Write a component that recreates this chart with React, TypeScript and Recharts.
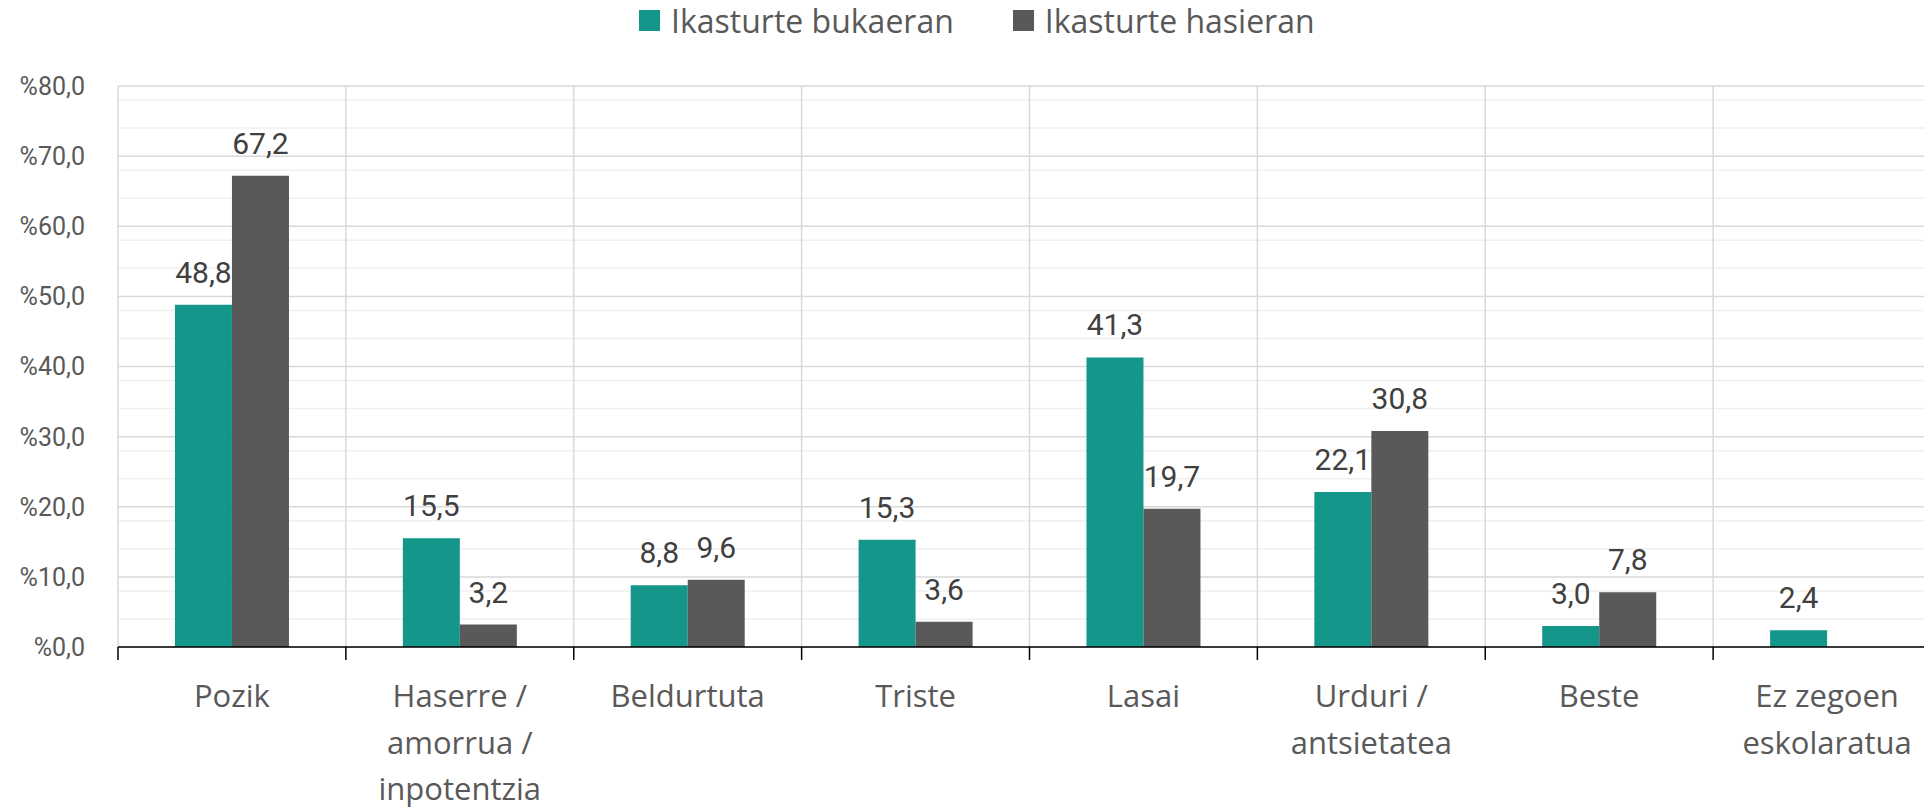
import React from 'react';
import {
  BarChart, Bar, XAxis, YAxis, CartesianGrid, Legend, LabelList,
} from 'recharts';

// Kategoriak eta balioak (%)
const categories = [
  'Pozik',
  'Haserre /\namorrua /\ninpotentzia',
  'Beldurtuta',
  'Triste',
  'Lasai',
  'Urduri /\nantsietatea',
  'Beste',
  'Ez zegoen\neskolaratua',
];
const bukaeran = [48.8, 15.5, 8.8, 15.3, 41.3, 22.1, 3.0, 2.4];
const hasieran: (number | null)[] = [67.2, 3.2, 9.6, 3.6, 19.7, 30.8, 7.8, null];

const yTicks = [0, 10, 20, 30, 40, 50, 60, 70, 80];
const minorValues = [2, 4, 6, 8, 12, 14, 16, 18, 22, 24, 26, 28, 32, 34, 36, 38, 42, 44, 46, 48, 52, 54, 56, 58, 62, 64, 66, 68, 72, 74, 76, 78];

const TEAL = '#15968B';
const GRAY = '#595959';
const TEXT = '#595959';

const data = categories.map((name, i) => ({
  name,
  bukaeran: bukaeran[i],
  hasieran: hasieran[i],
}));

const fmt = (v: any) => (v == null ? '' : Number(v).toFixed(1).replace('.', ','));

const scaleOf = (s: any, v: any) => {
  if (typeof s === 'function') return s(v);
  if (s && typeof s.map === 'function') return s.map(v);
  if (s && typeof s.apply === 'function') return s.apply(v);
  return undefined;
};

// grid verticals on the category boundaries, taken from the band scale
const boundaryLines = ({ xAxis, offset }: any) => {
  try {
    const s = xAxis && xAxis.scale;
    if (s && typeof s.bandwidth === 'function') {
      const xs = categories.map((c) => scaleOf(s, c));
      if (xs.every((x) => typeof x === 'number' && !isNaN(x))) {
        return [...xs, xs[xs.length - 1] + s.bandwidth()];
      }
    }
  } catch (e) {
    // fall through
  }
  const step = offset.width / categories.length;
  return [...categories.map((_, i) => offset.left + i * step), offset.left + offset.width];
};

const CategoryTick = (props: any) => {
  const { x, y, payload, index } = props;
  const half = payload && payload.offset ? payload.offset : 0;
  const lines = String(payload.value).split('\n');
  return (
    <g>
      <line x1={x - half} x2={x - half} y1={y} y2={y + 13} stroke="#000" strokeWidth={1.5} />
      {index === categories.length - 1 && (
        <line x1={x + half} x2={x + half} y1={y} y2={y + 13} stroke="#000" strokeWidth={1.5} />
      )}
      <text x={x} y={y} textAnchor="middle" fill={TEXT} fontSize={31} fontFamily="'Open Sans', sans-serif">
        {lines.map((l, i) => (
          <tspan key={i} x={x} dy={i === 0 ? 60 : 46.7}>{l}</tspan>
        ))}
      </text>
    </g>
  );
};

const LegendContent = (props: any) => {
  const { payload } = props;
  return (
    <div style={{ display: 'flex', alignItems: 'center', height: 40, fontFamily: "'Open Sans', sans-serif" }}>
      {(payload || []).map((p: any, i: number) => (
        <div key={i} style={{ display: 'flex', alignItems: 'center', marginRight: 59 }}>
          <span style={{ width: 21, height: 21, background: p.color, display: 'inline-block', marginRight: 11 }} />
          <span style={{ fontSize: 32, color: TEXT, whiteSpace: 'nowrap' }}>{p.value}</span>
        </div>
      ))}
    </div>
  );
};

export default function App() {
  return (
    <div style={{ position: 'absolute', left: 0, top: 0, width: 1924, height: 811, overflow: 'hidden', background: '#fff' }}>
      <BarChart
        width={1960}
        height={811}
        data={data}
        margin={{ top: 46, right: 19, left: 0, bottom: 0 }}
        barCategoryGap="25%"
        barGap={0}
      >
        <CartesianGrid vertical={false} horizontalValues={minorValues} stroke="#efefef" strokeWidth={1.5} />
        <CartesianGrid verticalCoordinatesGenerator={boundaryLines} stroke="#d9d9d9" strokeWidth={1.5} />
        <XAxis
          dataKey="name"
          height={164}
          axisLine={{ stroke: '#000', strokeWidth: 1.5 }}
          tickLine={false}
          tickSize={0}
          tickMargin={0}
          interval={0}
          tick={<CategoryTick />}
        />
        <YAxis
          domain={[0, 80]}
          ticks={yTicks}
          width={118}
          axisLine={false}
          tickLine={false}
          tickSize={0}
          tickMargin={33}
          tickFormatter={(v: number) => '%' + v.toFixed(1).replace('.', ',')}
          tick={{ fill: TEXT, fontSize: 25, fontFamily: 'Roboto, sans-serif' }}
        />
        <Legend
          verticalAlign="top"
          align="left"
          content={<LegendContent />}
          wrapperStyle={{ top: 0, left: 639 }}
        />
        <Bar dataKey="bukaeran" name="Ikasturte bukaeran" fill={TEAL} isAnimationActive={false}>
          <LabelList dataKey="bukaeran" position="top" offset={22} formatter={fmt}
            style={{ fill: '#404040', fontSize: 30, fontFamily: 'Roboto, sans-serif' }} />
        </Bar>
        <Bar dataKey="hasieran" name="Ikasturte hasieran" fill={GRAY} isAnimationActive={false}>
          <LabelList dataKey="hasieran" position="top" offset={22} formatter={fmt}
            style={{ fill: '#404040', fontSize: 30, fontFamily: 'Roboto, sans-serif' }} />
        </Bar>
      </BarChart>
    </div>
  );
}
